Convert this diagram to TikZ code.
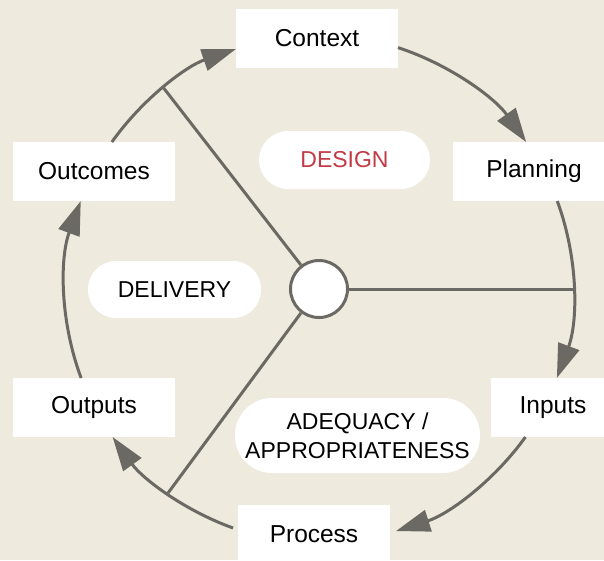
\documentclass[tikz,border=0pt]{standalone}
\usepackage{fontspec}
\setmainfont{Liberation Sans}
\usetikzlibrary{arrows.meta,positioning}
\definecolor{paper}{RGB}{238,234,221}
\definecolor{ringgray}{RGB}{106,105,100}
\definecolor{designred}{RGB}{194,58,69}
\tikzset{
  stage/.style = {fill=white, inner sep=0pt, minimum height=59pt,
                  minimum width=162pt, font=\fontsize{24.5}{28}\selectfont},
  pill/.style  = {fill=white, inner sep=0pt, align=center,
                  font=\fontsize{23}{29}\selectfont},
  ring/.style  = {draw=ringgray, line width=3pt},
  flow/.style  = {ring, -{Triangle[length=34pt,width=22pt]}}
}

\begin{document}
\begin{tikzpicture}[x=1pt, y=1pt]
\fill[paper] (0,0) rectangle (604,-560);
\useasboundingbox (0,0) rectangle (604,-560);

% the six stages round the cycle
\node[stage] (context) at (317,-38.5) {Context};
\node[stage] (planning) at (534,-171.5) {Planning};
\node[stage, minimum width=124pt] (inputs) at (553,-407.5) {Inputs};
\node[stage, minimum width=152pt] (process) at (314,-534.5) {Process};
\node[stage] (outputs) at (94,-407.5) {Outputs};
\node[stage] (outcomes) at (94,-171.5) {Outcomes};

% the three themes
\node[pill, minimum width=171pt, minimum height=58pt, rounded corners=29pt,
      text=designred] (design) at (344.5,-160) {DESIGN};
\node[pill, minimum width=173pt, minimum height=57pt, rounded corners=28pt]
      (delivery) at (174.5,-289.5) {DELIVERY};
\node[pill, minimum width=245pt, minimum height=75pt, rounded corners=37pt]
      (adequacy) at (357.5,-435.5) {ADEQUACY /\\APPROPRIATENESS};

% hub and spokes
\node[ring, circle, fill=white, minimum size=57pt, inner sep=0pt] (hub) at (319,-289) {};

\foreach \a in {0,127.7,233.5}
  \draw[ring] (hub.\a) -- ([shift={(\a:254)}]hub.center);

% arcs from stage to stage
\foreach \from/\to in {144.64/109.07, 71.88/35.36, 20.27/-20.51,
                       -35.64/-72.35, 250.21/215.64, 200.51/159.73}
  \draw[flow] ([shift={(\from:254)}]hub.center)
    arc[start angle=\from, end angle=\to, radius=254];
\end{tikzpicture}
\end{document}
